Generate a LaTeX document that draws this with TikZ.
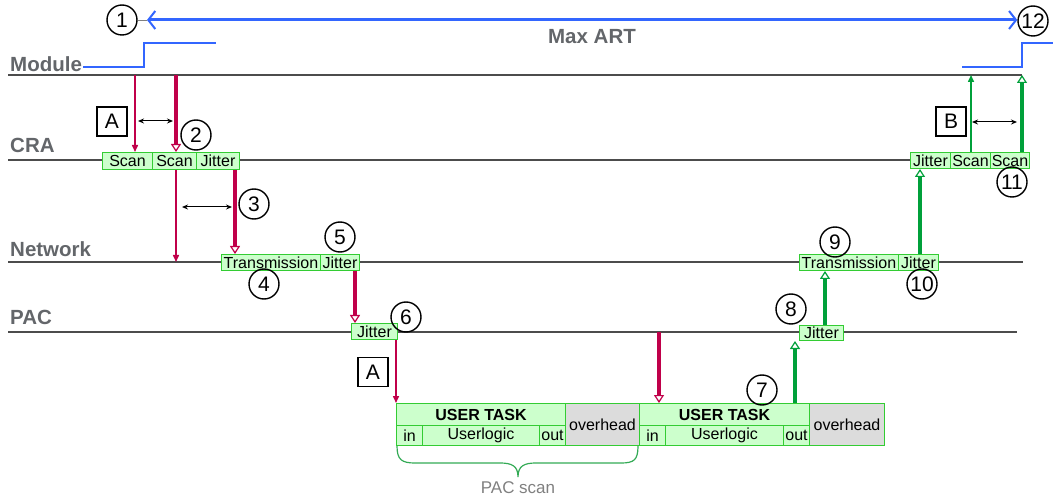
\documentclass[tikz,border=0pt]{standalone}
\usepackage{fontspec}
\setmainfont{Liberation Sans}
\usetikzlibrary{arrows.meta}
\definecolor{crim}{HTML}{C0004A}
\definecolor{grn}{HTML}{00A03A}
\definecolor{blu}{HTML}{3366FF}
\definecolor{lanegray}{HTML}{63666A}
\definecolor{boxfill}{HTML}{CCFFCC}
\definecolor{boxline}{HTML}{33CC33}
\definecolor{ovfill}{HTML}{DCDCDC}
\definecolor{brcgreen}{HTML}{33AA55}
\tikzset{
 lane/.style={draw=black!70, line width=1.2pt},
 lanelabel/.style={anchor=base west, inner sep=0, text=lanegray, font=\fontsize{20.5}{24}\selectfont\bfseries},
 gbox/.style={draw=boxline, fill=boxfill, line width=1pt, inner sep=0, anchor=north west, font=\fontsize{16}{17}\selectfont},
 ovbox/.style={gbox, fill=ovfill},
 numc/.style={circle, draw=black, line width=1.4pt, minimum size=30pt, inner sep=0, font=\fontsize{21}{23}\selectfont},
 letbox/.style={draw=black, line width=1.5pt, minimum width=30pt, minimum height=29pt, inner sep=0, font=\fontsize{21}{23}\selectfont},
 thinr/.style={draw=crim, line width=1.5pt, -{Triangle[width=6pt,length=7pt]}},
 thickr/.style={draw=crim, line width=4pt, -{Triangle[width=10pt,length=8pt,fill=white,line width=1.2pt]}},
 thing/.style={draw=grn, line width=1.5pt, -{Triangle[width=6pt,length=7pt]}},
 thickg/.style={draw=grn, line width=4pt, -{Triangle[width=10pt,length=8pt,fill=white,line width=1.2pt]}},
 dbl/.style={draw=black, line width=1pt, {Stealth[length=6pt,width=5pt]}-{Stealth[length=6pt,width=5pt]}},
 artarrow/.style={draw=blu, line width=3pt, {Straight Barb[length=7pt,width=18pt,line width=2pt]}-{Straight Barb[length=7pt,width=18pt,line width=2pt]}},
 sig/.style={draw=blu, line width=2.5pt},
}
\begin{document}
\begin{tikzpicture}[x=1pt,y=-1pt]
\useasboundingbox (0,0) rectangle (1053,497);

% lanes
\draw[lane] (8,75) -- (1022,75);
\draw[lane] (8,160) -- (910,160);
\draw[lane] (8,262) -- (1023,262);
\draw[lane] (8,332) -- (1017,332);
\node[lanelabel] (lmod) at (10,72) {Module};
\node[lanelabel] (lcra) at (10,153) {CRA};
\node[lanelabel] (lnet) at (10,257) {Network};
\node[lanelabel] (lpac) at (10,325) {PAC};

% module signal
\draw[sig] (83,67) -| (144,43) -- (216,43);
\draw[sig] (962,67) -| (1022,43) -- (1053,43);

% Max ART
\node[numc] (c1) at (122,20) {1};
\node[numc] (c12) at (1033,21) {12};
\coordinate (artL) at (147,20);
\draw[black!50, line width=0.8pt] (c1.east) -- (artL);
\draw[artarrow] (artL) -- (c12.west |- artL);
\node[text=lanegray, font=\fontsize{20.5}{24}\selectfont\bfseries] (maxart) at (592,37) {Max ART};

% CRA left boxes
\node[gbox, minimum width=50pt, minimum height=17pt] (s1) at (102,152) {Scan};
\node[gbox, minimum width=44pt, minimum height=17pt] (s2) at (152,152) {Scan};
\node[gbox, minimum width=43pt, minimum height=17pt] (j1) at (196,152) {Jitter};

% Network left boxes
\node[gbox, minimum width=99pt, minimum height=16pt] (t1) at (221,254) {Transmission};
\node[gbox, minimum width=39pt, minimum height=16pt] (nj1) at (320,254) {Jitter};

% PAC jitter left
\node[gbox, minimum width=46pt, minimum height=16pt] (pj1) at (351,323) {Jitter};

% User task 1
\node[gbox, minimum width=169pt, minimum height=22pt, font=\fontsize{16}{18}\selectfont\bfseries] (ut1) at (396,403) {USER TASK};
\node[gbox, minimum width=26pt, minimum height=20pt] (in1) at (396,425) {in};
\node[gbox, minimum width=117pt, minimum height=20pt] (ul1) at (422,425) {Userlogic};
\node[gbox, minimum width=26pt, minimum height=20pt] (out1) at (539,425) {out};
\node[ovbox, minimum width=74pt, minimum height=42pt, font=\fontsize{16}{18}\selectfont] (ov1) at (565,403) {overhead};

% User task 2
\node[gbox, minimum width=170pt, minimum height=22pt, font=\fontsize{16}{18}\selectfont\bfseries] (ut2) at (639,403) {USER TASK};
\node[gbox, minimum width=26pt, minimum height=20pt] (in2) at (639,425) {in};
\node[gbox, minimum width=118pt, minimum height=20pt] (ul2) at (665,425) {Userlogic};
\node[gbox, minimum width=26pt, minimum height=20pt] (out2) at (783,425) {out};
\node[ovbox, minimum width=75pt, minimum height=42pt, font=\fontsize{16}{18}\selectfont] (ov2) at (809,403) {overhead};

% PAC jitter right
\node[gbox, minimum width=44pt, minimum height=15pt] (pj2) at (799,325) {Jitter};

% Network right
\node[gbox, minimum width=99pt, minimum height=16pt] (t2) at (799,254) {Transmission};
\node[gbox, minimum width=40pt, minimum height=16pt] (nj2) at (898,254) {Jitter};

% CRA right
\node[gbox, minimum width=40pt, minimum height=16pt] (j2) at (910,152) {Jitter};
\node[gbox, minimum width=40pt, minimum height=16pt] (s3) at (950,152) {Scan};
\node[gbox, minimum width=39pt, minimum height=16pt] (s4) at (990,152) {Scan};

% letter boxes
\node[letbox] (bA1) at (112,121.5) {A};
\node[letbox] (bA2) at (373,372) {A};
\node[letbox] (bB) at (951,121.5) {B};

% numbered circles
\node[numc] (c2) at (196,135) {2};
\node[numc] (c3) at (254,204) {3};
\node[numc] (c4) at (264,284) {4};
\node[numc] (c5) at (340,237) {5};
\node[numc] (c6) at (406,317) {6};
\node[numc] (c7) at (762,390) {7};
\node[numc] (c8) at (791,309) {8};
\node[numc] (c9) at (835,242) {9};
\node[numc] (c10) at (922,284) {10};
\node[numc] (c11) at (1012,182) {11};

% coordinates on lanes
\coordinate (modL) at (0,75);
\coordinate (netL) at (0,262);
\coordinate (pacL) at (0,332);

% crimson arrows
\coordinate (xa) at (135,0);
\coordinate (xb) at (176,0);
\coordinate (xc) at (235,0);
\coordinate (xd) at (355,0);
\coordinate (xe) at (396,0);
\coordinate (xf) at (659,0);
\draw[thinr] (xa |- modL) -- (xa |- s1.north);
\draw[thickr] (xb |- modL) -- (xb |- s2.north);
\draw[thinr] (xb |- s2.south) -- (xb |- netL);
\draw[thickr] (xc |- j1.south) -- (xc |- t1.north);
\draw[thickr] (xd |- nj1.south) -- (xd |- pj1.north);
\draw[thinr] (xe |- pj1.south) -- (xe |- ut1.north);
\draw[thickr] (xf |- pacL) -- (xf |- ut2.north);

% double arrows
\coordinate (d1a) at (138,121);
\coordinate (d1b) at (173,121);
\coordinate (d2a) at (182,207);
\coordinate (d2b) at (232,207);
\coordinate (d3a) at (972,122);
\coordinate (d3b) at (1017,122);
\draw[dbl] (d1a) -- (d1b);
\draw[dbl] (d2a) -- (d2b);
\draw[dbl] (d3a) -- (d3b);

% green arrows
\coordinate (xg) at (795,0);
\coordinate (xh) at (825,0);
\coordinate (xi) at (920,0);
\coordinate (xj) at (971,0);
\coordinate (xk) at (1022,0);
\draw[thickg] (xg |- ut2.north) -- (xg |- pj2.south);
\draw[thickg] (xh |- pj2.north) -- (xh |- t2.south);
\draw[thickg] (xi |- nj2.north) -- (xi |- j2.south);
\draw[thing] (xj |- s3.north) -- (xj |- modL);
\draw[thickg] (xk |- s4.north) -- (xk |- modL);

% brace
\draw[brcgreen, line width=1.2pt] (397,446) .. controls (397,460) and (402,463) .. (415,463) -- (500,463) .. controls (512,463) and (518,466) .. (518,477) .. controls (518,466) and (524,463) .. (536,463) -- (621,463) .. controls (634,463) and (638,460) .. (638,446);
\node[text=black!50, font=\fontsize{17}{20}\selectfont] (pacscan) at (518,488) {PAC scan};
\end{tikzpicture}
\end{document}
